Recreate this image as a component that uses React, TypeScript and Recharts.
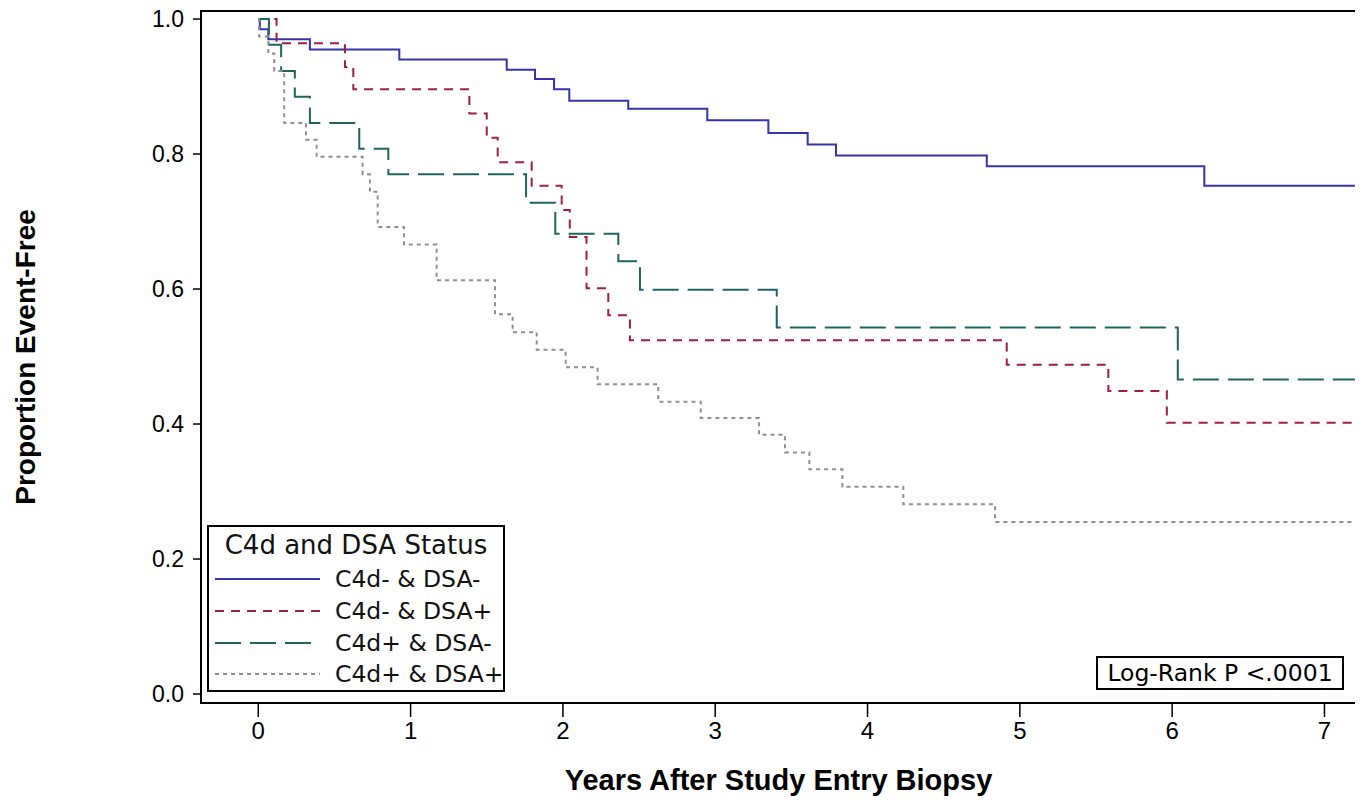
import React from 'react';
import { LineChart, Line, XAxis, YAxis, Legend, Label, ReferenceArea } from 'recharts';

// ---- tick labels ----
const xTicks = [0, 1, 2, 3, 4, 5, 6, 7];
const yTicks = [0, 0.2, 0.4, 0.6, 0.8, 1.0];
const xDomain = [-0.376, 7.207];
const yDomain = [-0.0133, 1.0119];

// ---- C4d- & DSA- ----
const negNegTime = [0, 0.01, 0.066, 0.339, 0.926, 1.631, 1.817, 1.942, 2.042, 2.429, 2.948, 3.349, 3.607, 3.793, 4.783, 6.211, 7.2];
const negNegSurv = [1.0, 0.985, 0.97, 0.955, 0.94, 0.925, 0.911, 0.896, 0.879, 0.867, 0.85, 0.831, 0.814, 0.798, 0.782, 0.753, 0.753];

// ---- C4d- & DSA+ ----
const negPosTime = [0, 0.12, 0.569, 0.624, 1.386, 1.5, 1.572, 1.795, 1.992, 2.045, 2.155, 2.298, 2.44, 4.914, 5.581, 5.965, 7.2];
const negPosSurv = [1.0, 0.964, 0.929, 0.896, 0.86, 0.824, 0.788, 0.753, 0.717, 0.677, 0.601, 0.561, 0.524, 0.488, 0.449, 0.402, 0.402];

// ---- C4d+ & DSA- ----
const posNegTime = [0, 0.07, 0.15, 0.24, 0.339, 0.663, 0.854, 1.758, 1.95, 2.364, 2.506, 3.404, 6.037, 7.2];
const posNegSurv = [1.0, 0.962, 0.923, 0.885, 0.846, 0.808, 0.77, 0.728, 0.682, 0.641, 0.599, 0.543, 0.466, 0.466];

// ---- C4d+ & DSA+ ----
const posPosTime = [0, 0.005, 0.066, 0.105, 0.17, 0.313, 0.383, 0.685, 0.733, 0.784, 0.957, 1.171, 1.554, 1.67, 1.828, 2.018, 2.228, 2.626, 2.905, 3.288, 3.458, 3.618, 3.835, 4.235, 4.837, 7.2];
const posPosSurv = [1.0, 0.974, 0.949, 0.923, 0.846, 0.821, 0.796, 0.77, 0.744, 0.692, 0.666, 0.613, 0.5625, 0.536, 0.51, 0.484, 0.459, 0.433, 0.409, 0.384, 0.358, 0.333, 0.307, 0.281, 0.255, 0.255];

const seriesNames = ['C4d- & DSA-', 'C4d- & DSA+', 'C4d+ & DSA-', 'C4d+ & DSA+'];
const seriesColors = ['#3434ac', '#9e1f3f', '#1d6660', '#8f8f8f'];
const seriesDash = [undefined, '9 7', '26 9', '4 4'];

const toData = (t: number[], s: number[]) => t.map((x, i) => ({ x, y: s[i] }));
const seriesData = [
  toData(negNegTime, negNegSurv),
  toData(negPosTime, negPosSurv),
  toData(posNegTime, posNegSurv),
  toData(posPosTime, posPosSurv),
];

const AXIS_FONT = 'Liberation Sans, Arial, sans-serif';
const TEXT_FONT = 'DejaVu Sans, Verdana, sans-serif';

const XTitle = (props: any) => {
  const vb = props.viewBox;
  return (
    <text
      x={vb.x + vb.width / 2}
      y={vb.y + 77}
      textAnchor="middle"
      dominantBaseline="central"
      fontFamily={AXIS_FONT}
      fontWeight="bold"
      fontSize={29}
      fill="#000"
    >
      Years After Study Entry Biopsy
    </text>
  );
};

const YTitle = (props: any) => {
  const vb = props.viewBox;
  const cx = vb.x + 25;
  const cy = vb.y + vb.height / 2;
  return (
    <text
      x={cx}
      y={cy}
      transform={`rotate(-90 ${cx} ${cy})`}
      textAnchor="middle"
      dominantBaseline="central"
      fontFamily={AXIS_FONT}
      fontWeight="bold"
      fontSize={28}
      fill="#000"
    >
      Proportion Event-Free
    </text>
  );
};

const LogRank = (props: any) => {
  const vb = props.viewBox;
  const bx = vb.x + vb.width - 259;
  const by = vb.y + vb.height - 46;
  return (
    <g>
      <rect x={bx} y={by} width={246} height={32} fill="#fff" stroke="#000" strokeWidth={2} />
      <text
        x={bx + 123}
        y={by + 16}
        textAnchor="middle"
        dominantBaseline="central"
        fontFamily={TEXT_FONT}
        fontSize={23.5}
        fill="#000"
      >
        Log-Rank P &lt;.0001
      </text>
    </g>
  );
};

const rowCenters = [52, 84, 116, 147];

const LegendBox = () => (
  <div
    style={{
      width: 298,
      height: 167,
      border: '2px solid #000',
      boxSizing: 'border-box',
      background: '#fff',
      position: 'relative',
      fontFamily: TEXT_FONT,
      fontSize: 23.5,
      color: '#111',
    }}
  >
    <div style={{ position: 'absolute', left: 0, right: 0, top: 18 - 16, lineHeight: '32px', textAlign: 'center', whiteSpace: 'nowrap', fontSize: 26 }}>
      C4d and DSA Status
    </div>
    {seriesNames.map((name, i) => (
      <div key={name} style={{ position: 'absolute', left: 0, top: rowCenters[i] - 16, height: 32, width: '100%' }}>
        <svg width={110} height={32} style={{ position: 'absolute', left: 6, top: 0 }}>
          <line x1={0} y1={16} x2={105} y2={16} stroke={seriesColors[i]} strokeWidth={2} strokeDasharray={seriesDash[i]} />
        </svg>
        <div style={{ position: 'absolute', left: 126, top: 0, lineHeight: '32px', whiteSpace: 'nowrap' }}>{name}</div>
      </div>
    ))}
  </div>
);

export default function App() {
  return (
    <div style={{ margin: '-8px 0 0 -8px', width: 1363, height: 804 }}>
      <LineChart width={1363} height={804} margin={{ top: 11, right: 7, bottom: 0, left: 0 }}>
        <XAxis
          xAxisId="b"
          type="number"
          dataKey="x"
          domain={xDomain}
          ticks={xTicks}
          interval={0}
          allowDataOverflow
          height={101}
          tickSize={14}
          tickMargin={5}
          axisLine={{ stroke: '#000', strokeWidth: 2 }}
          tickLine={{ stroke: '#000', strokeWidth: 1.5 }}
          tick={{ fill: '#000', fontSize: 24, fontFamily: AXIS_FONT }}
        >
          <Label content={XTitle} />
        </XAxis>
        <YAxis
          yAxisId="l"
          type="number"
          domain={yDomain}
          ticks={yTicks}
          interval={0}
          allowDataOverflow
          width={201}
          tickSize={8}
          tickMargin={9}
          tickFormatter={(v: number) => v.toFixed(1)}
          axisLine={{ stroke: '#000', strokeWidth: 2 }}
          tickLine={{ stroke: '#000', strokeWidth: 1.5 }}
          tick={{ fill: '#000', fontSize: 23, fontFamily: AXIS_FONT }}
        >
          <Label content={YTitle} />
        </YAxis>
        <ReferenceArea
          xAxisId="b"
          yAxisId="l"
          x1={xDomain[0]}
          x2={xDomain[1]}
          y1={yDomain[0]}
          y2={yDomain[1]}
          ifOverflow="visible"
          fill="none"
          fillOpacity={0}
          stroke="#000"
          strokeWidth={2}
        >
          <Label content={LogRank} />
        </ReferenceArea>
        <Legend
          layout="horizontal"
          verticalAlign="middle"
          align="center"
          content={LegendBox}
          wrapperStyle={{ left: 207, top: 525, width: 298, height: 167 }}
        />
        {seriesData.map((d, i) => (
          <Line
            key={seriesNames[i]}
            name={seriesNames[i]}
            xAxisId="b"
            yAxisId="l"
            data={d}
            dataKey="y"
            type="stepAfter"
            stroke={seriesColors[i]}
            strokeWidth={2}
            strokeDasharray={seriesDash[i]}
            dot={false}
            activeDot={false}
            isAnimationActive={false}
          />
        ))}
      </LineChart>
    </div>
  );
}
